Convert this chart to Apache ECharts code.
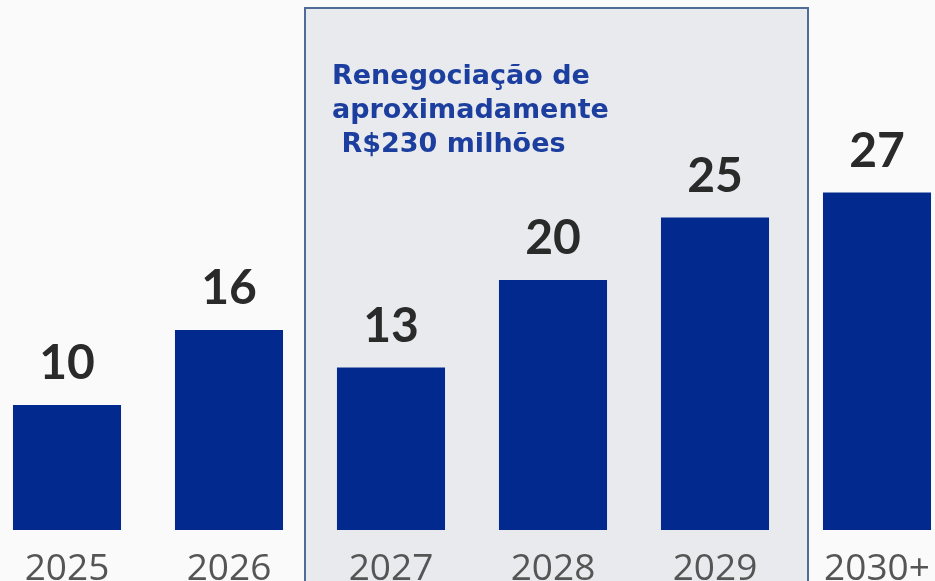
<!DOCTYPE html>
<html><head><meta charset="utf-8">
<script src="https://cdn.jsdelivr.net/npm/echarts@6/dist/echarts.min.js"></script>
<style>html,body{margin:0;padding:0;background:#fafafa}#c{width:935px;height:581px}</style>
</head><body><div id="c"></div>
<script>
const categories = ['2025', '2026', '2027', '2028', '2029', '2030+'];
const values = [10, 16, 13, 20, 25, 27];
const noteLines = ['Renegociação de', 'aproximadamente', ' R$230 milhões'];
const highlightFrom = '2027';
const highlightTo = '2029';

const chart = echarts.init(document.getElementById('c'), null, {renderer: 'canvas'});
chart.setOption({
  backgroundColor: '#fafafa',
  animation: false,
  grid: {left: -14, width: 972, top: 30, bottom: 51, containLabel: false, outerBoundsMode: 'none'},
  xAxis: {
    type: 'category', data: categories,
    axisLine: {show: false}, axisTick: {show: false},
    axisLabel: {margin: 21, color: '#555555', fontSize: 37, fontFamily: 'Open Sans'}
  },
  yAxis: {type: 'value', min: 0, max: 40, show: false, splitLine: {show: false}},
  series: [{
    type: 'bar', data: values, barCategoryGap: '33.3%', z: 5,
    itemStyle: {color: '#022a8e'},
    label: {show: true, position: 'top', distance: 17, color: '#2a2a2a',
      fontSize: 48, fontWeight: 'bold', fontFamily: 'Lato'}
  }]
});
const x0 = chart.convertToPixel({xAxisIndex: 0}, highlightFrom);
const x1 = chart.convertToPixel({xAxisIndex: 0}, highlightTo);
const boxL = x0 - 86, boxR = x1 + 93;
chart.setOption({
  graphic: [
    {type: 'rect', z: 0, silent: true,
      shape: {x: boxL, y: 8, width: boxR - boxL, height: 600},
      style: {fill: '#e8eaee', stroke: '#4f6b98', lineWidth: 2}},
    {type: 'text', z: 1, silent: true, x: boxL + 27, y: 60,
      style: {text: noteLines.join('\n'), font: 'bold 27px "DejaVu Sans"', fill: '#1c3f9f', lineHeight: 34}}
  ]
});
</script></body></html>
